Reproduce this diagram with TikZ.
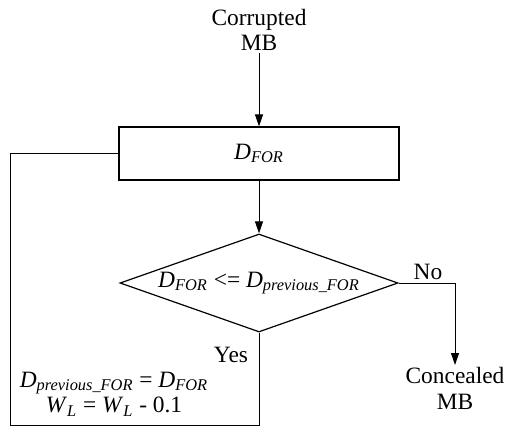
\documentclass[tikz,border=0pt]{standalone}
\usepackage{fontspec}
\setmainfont{Liberation Serif}
\usetikzlibrary{shapes.geometric,arrows.meta}
\newcommand{\Dsub}[1]{\textit{D}\textsubscript{\textit{#1}}}
\newcommand{\Wsub}{\textit{W}\textsubscript{\textit{L}}}
\begin{document}
\begin{tikzpicture}[x=0.5pt,y=-0.5pt,
  every node/.style={font=\fontsize{11.7}{12.8}\selectfont},
  line/.style={line width=0.5pt,draw=black},
  arr/.style={line/.try,line width=0.5pt,-{Triangle[length=6pt,width=4pt]}},
  procbox/.style={draw,line width=0.6pt,minimum width=140pt,minimum height=26.5pt,inner sep=0pt},
  decision/.style={draw,line width=0.6pt,diamond,aspect=2.84,minimum width=139pt,minimum height=49pt,inner sep=0pt},
  txt/.style={align=center,inner sep=1pt}]
\useasboundingbox (0,0) rectangle (508,428);
\node[txt] (corr) at (259,30) {Corrupted\\MB};
\node[procbox] (box) at (259,153.5) {\Dsub{FOR}};
\node[decision] (dia) at (259,283) {\Dsub{FOR} <= \Dsub{previous\_FOR}};
\node[txt,anchor=north] (conc) at (455,365) {Concealed\\MB};
\node[inner sep=0pt] (no) at (428,272) {No};
\node[inner sep=0pt] (yes) at (231,355) {Yes};
\node[txt] (upd) at (114,394) {\Dsub{previous\_FOR} = \Dsub{FOR}\\\Wsub{} = \Wsub{} - 0.1};
\coordinate (ll) at (10,425);
\draw[arr] (corr.south) -- (box.north);
\draw[arr] (box.south) -- (dia.north);
\draw[arr] (dia.east) -| (conc.north);
\draw[line] (dia.south) |- (ll) |- (box.west);
\end{tikzpicture}
\end{document}
